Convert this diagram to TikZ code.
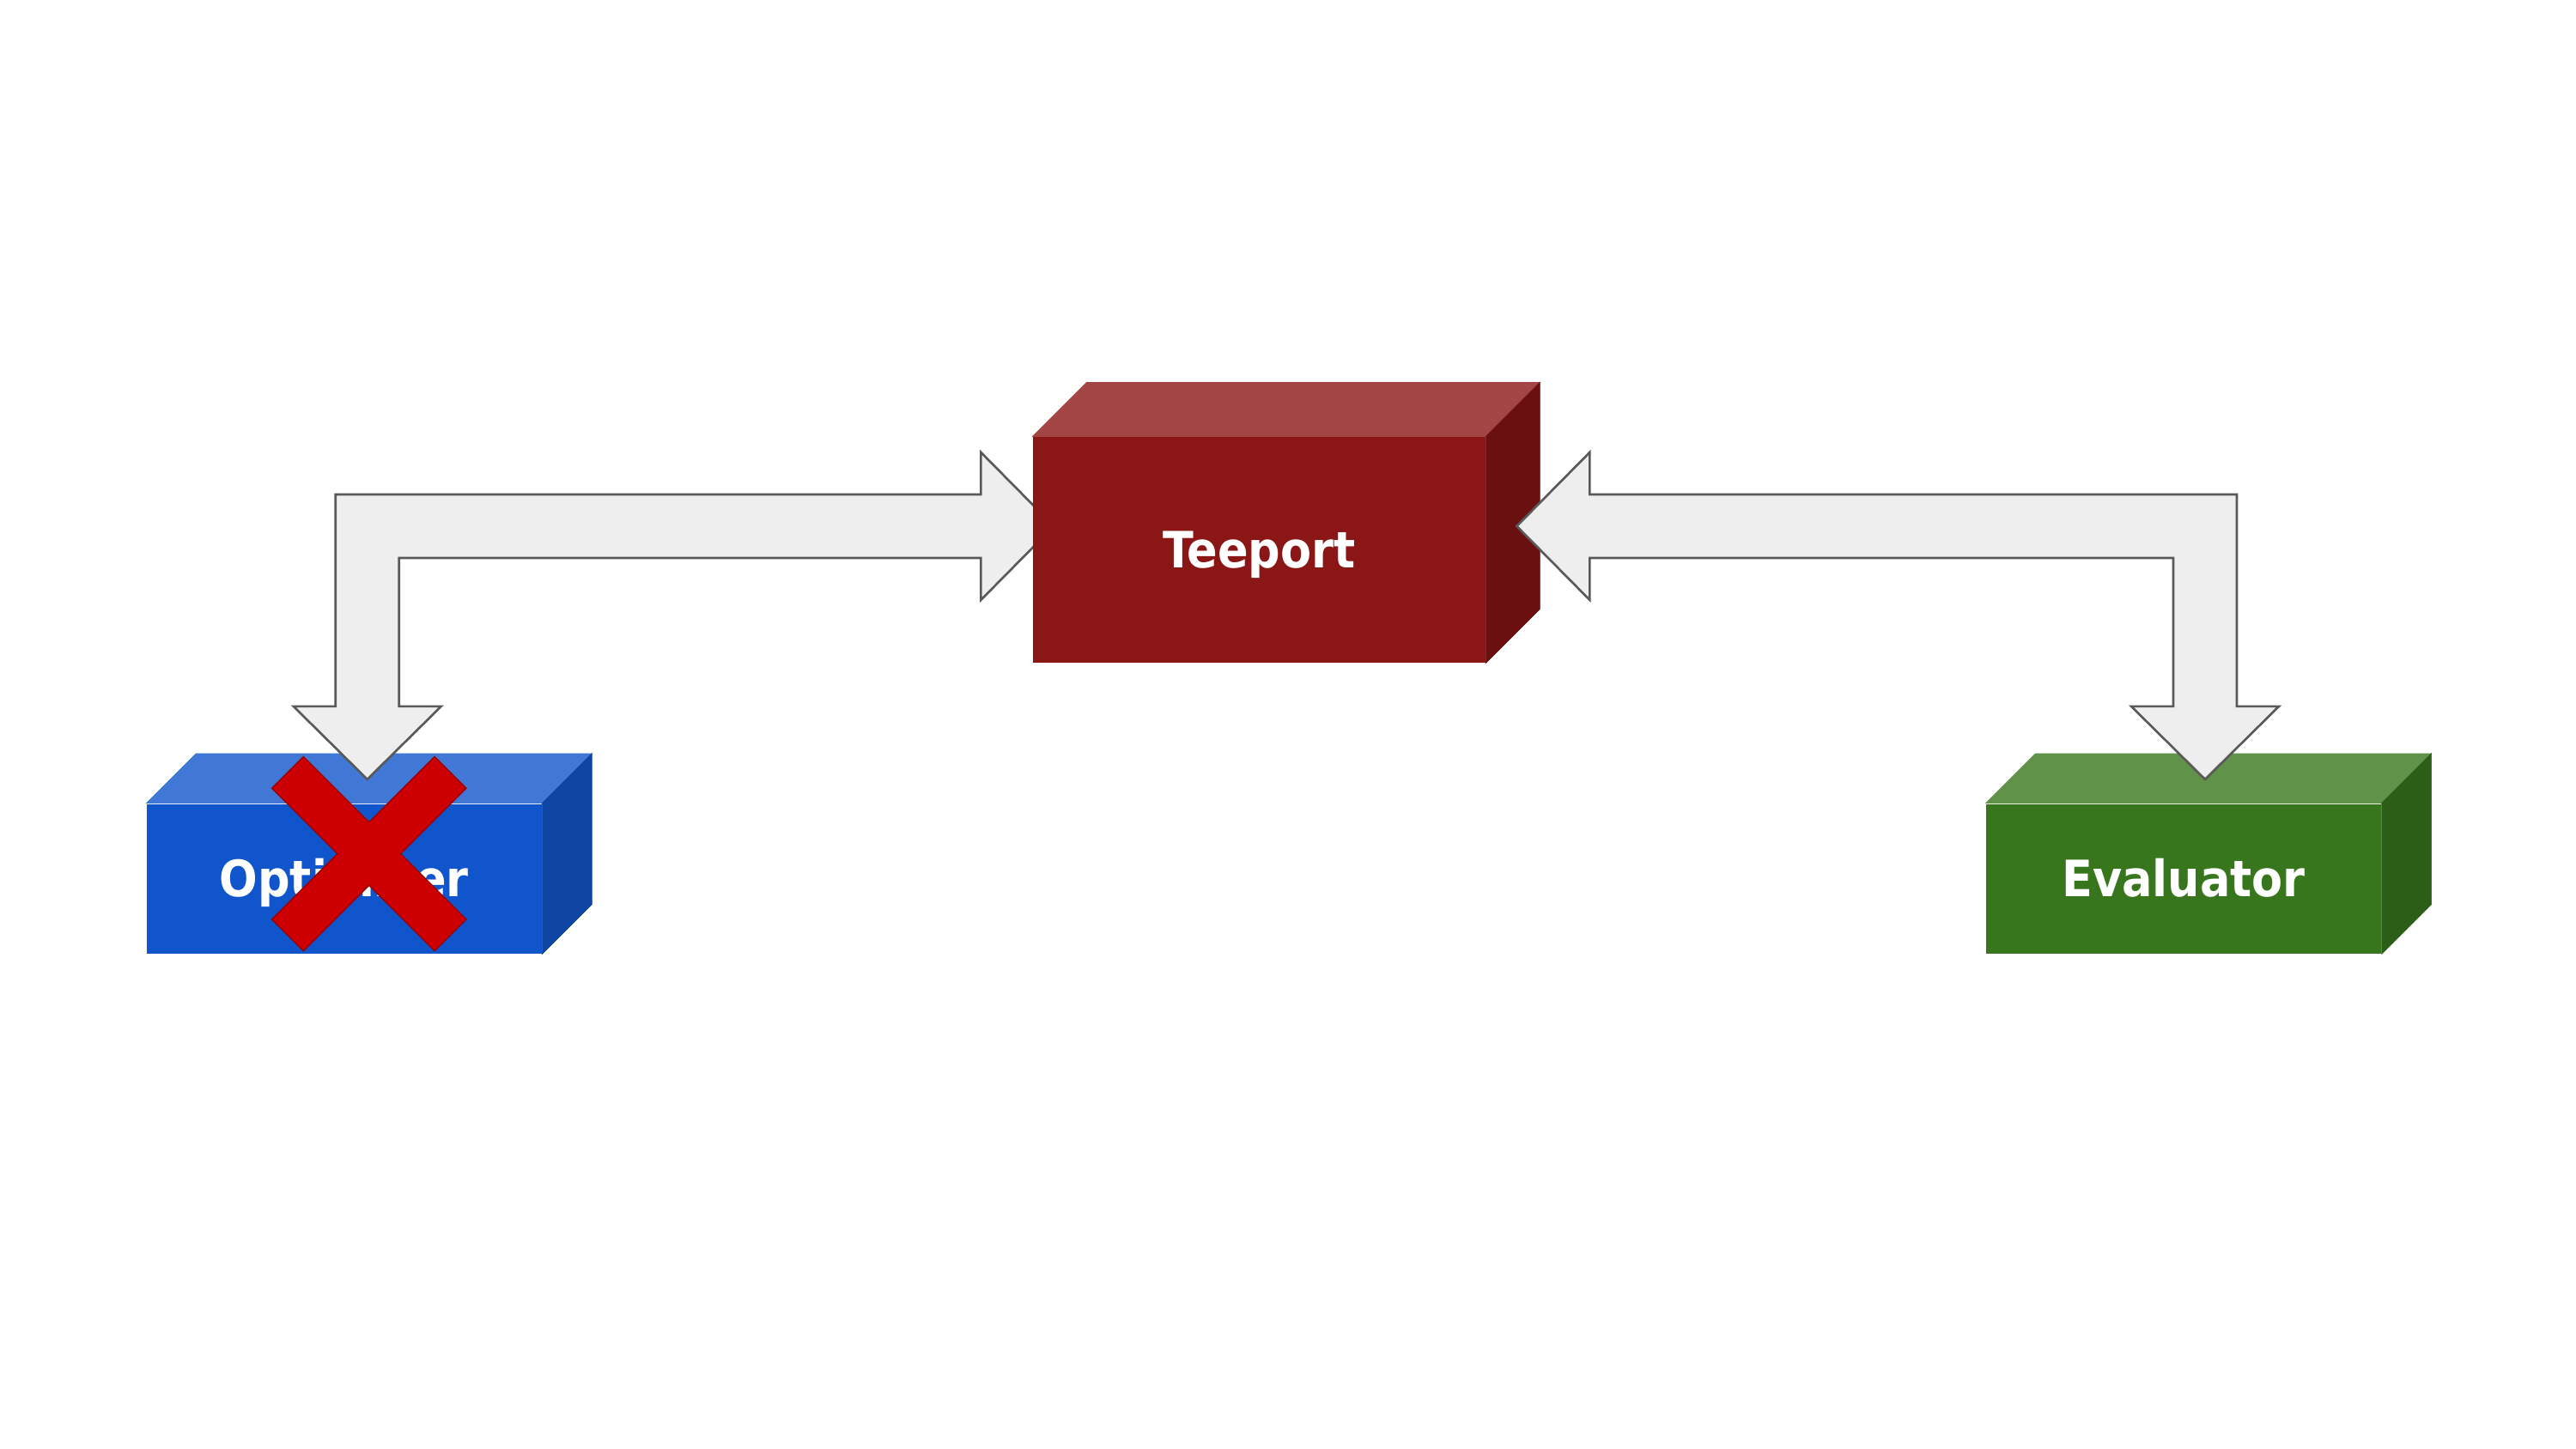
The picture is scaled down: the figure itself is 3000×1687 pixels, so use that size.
\documentclass[tikz,border=0pt]{standalone}
\usepackage{fontspec}
\usetikzlibrary{positioning,calc}
\newfontfamily\boxfont{DejaVu Sans Condensed}

\definecolor{teefront}{HTML}{8B1616}
\definecolor{teetop}{HTML}{A34545}
\definecolor{teeside}{HTML}{6B1010}
\definecolor{optfront}{HTML}{1155CC}
\definecolor{opttop}{HTML}{4178D6}
\definecolor{optside}{HTML}{0E44A2}
\definecolor{evafront}{HTML}{38761D}
\definecolor{evatop}{HTML}{61924A}
\definecolor{evaside}{HTML}{2D5E17}
\definecolor{arrowfill}{HTML}{EEEEEE}
\definecolor{arrowline}{HTML}{595959}
\definecolor{crossfill}{HTML}{CC0000}
\definecolor{crossline}{HTML}{990000}

\pgfdeclarelayer{front}
\pgfsetlayers{main,front}

\tikzset{
  cube/.style={rectangle,inner sep=0pt,fill=#1,text=white,
    text height=12.1pt,text depth=0pt,
    font=\boxfont\bfseries\fontsize{16.6}{19}\selectfont},
  small cube/.style={cube=#1,minimum width=4.595cm,minimum height=1.741cm},
  big cube/.style={cube=#1,minimum width=5.263cm,minimum height=2.624cm},
  block arrow/.style={fill=arrowfill,draw=arrowline,line width=0.75pt,line join=miter},
  cross/.style={fill=crossfill,draw=crossline,line width=0.4pt}
}

% top and side faces of a box: node, depth, top colour, side colour
\newcommand{\cubefaces}[4]{
  \filldraw[fill=#3,draw=#3,line width=0.2pt] (#1.north west) -- ++(#2,-#2)
    -- ($(#1.north east)+(#2,-#2)$) -- (#1.north east) -- cycle;
  \filldraw[fill=#4,draw=#4,line width=0.2pt] (#1.north east) -- ++(#2,-#2)
    -- ($(#1.south east)+(#2,-#2)$) -- (#1.south east) -- cycle;
}

% bent block arrow: direction of side tip (1 right, -1 left), side tip, lower tip
\newcommand{\bentarrow}[3]{
  \coordinate (bend) at (#3 |- #2);
  \draw[block arrow] ($(bend)+({-(#1)*37},-37)$) -- ($(#2)+({-(#1)*85},-37)$)
    -- ($(#2)+({-(#1)*85},-86)$) -- (#2) -- ($(#2)+({-(#1)*85},86)$)
    -- ($(#2)+({-(#1)*85},37)$) -- ($(bend)+({(#1)*37},37)$)
    -- ($(#3)+({(#1)*37},-85)$) -- ($(#3)+({(#1)*86},-85)$) -- (#3)
    -- ($(#3)+({-(#1)*86},-85)$) -- ($(#3)+({-(#1)*37},-85)$) -- cycle;
}

\begin{document}
\begin{tikzpicture}[x=0.01cm,y=-0.01cm,node distance=1cm,on grid]
  \useasboundingbox (0,0) rectangle (3000,1687);

  \node[small cube=optfront] (opt) at (400.75,1023.65) {Optimizer};
  \cubefaces{opt}{58}{opttop}{optside}
  \node[small cube=evafront] (eva) [right=21.41cm of opt] {Evaluator};
  \cubefaces{eva}{58}{evatop}{evaside}
  \begin{pgfonlayer}{front}
    \node[big cube=teefront] (tee) [above right=3.83cm and 10.65cm of opt] {Teeport};
    \cubefaces{tee}{63}{teetop}{teeside}
  \end{pgfonlayer}

  % tips of the two block arrows
  \coordinate (tee_in) at ($(tee.west)+(25,-27.5)$);
  \coordinate (tee_out) at ($(tee.east)+(36,-27.5)$);
  \coordinate (opt_in) at ($(opt.north)+(27,-28)$);
  \coordinate (eva_in) at ($(eva.north)+(25,-28)$);

  \bentarrow{1}{tee_in}{opt_in}
  \begin{pgfonlayer}{front}
    \bentarrow{-1}{tee_out}{eva_in}
    % optimizer crossed out
    \draw[cross,shift={($(opt.center)+(29,-29)$)},rotate=45]
      (26,134) -- (26,26) -- (134,26) -- (134,-26) -- (26,-26) -- (26,-134)
      -- (-26,-134) -- (-26,-26) -- (-134,-26) -- (-134,26) -- (-26,26)
      -- (-26,134) -- cycle;
  \end{pgfonlayer}
\end{tikzpicture}
\end{document}
